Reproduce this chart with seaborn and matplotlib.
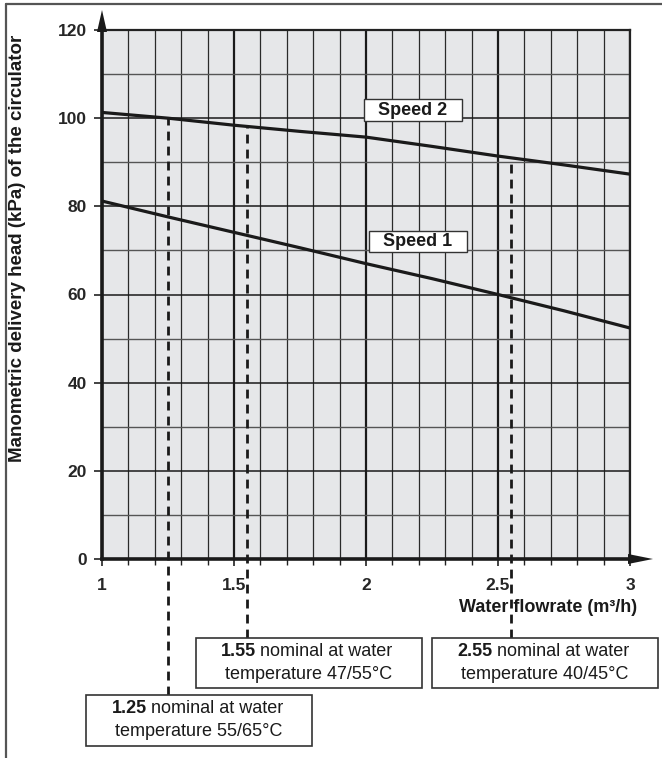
import numpy as np
import pandas as pd
import matplotlib
matplotlib.use("Agg")
import matplotlib.pyplot as plt
from matplotlib.patches import Rectangle, Polygon
from matplotlib.lines import Line2D
import seaborn as sns

# ---------------- data ----------------
flow = [1.0, 1.25, 1.5, 1.75, 2.0, 2.25, 2.5, 2.75, 3.0]
speed1_head = [81.2, 77.6, 74.1, 70.6, 67.0, 63.6, 60.0, 56.3, 52.4]
speed2_head = [101.3, 100.0, 98.4, 97.0, 95.7, 93.6, 91.4, 89.4, 87.3]
series_names = ["Speed 1", "Speed 2"]

nominal_flows = [1.25, 1.55, 2.55]
nominal_heads = [100.0, 98.0, 91.0]
nominal_temps = ["55/65°C", "47/55°C", "40/45°C"]

x_ticks = [1, 1.5, 2, 2.5, 3]
x_tick_labels = ["1", "1.5", "2", "2.5", "3"]
y_ticks = [0, 20, 40, 60, 80, 100, 120]
y_tick_labels = ["0", "20", "40", "60", "80", "100", "120"]

x_label = "Water flowrate (m³/h)"
y_label = "Manometric delivery head (kPa) of the circulator"

# ---------------- figure ----------------
sns.set_theme(style="white")
plt.rcParams["font.family"] = ["Liberation Sans", "DejaVu Sans"]

W, H = 662, 758
fig = plt.figure(figsize=(W / 100, H / 100), dpi=100)
fig.patch.set_facecolor("white")


def fx(x):
    return x / W


def fy(y):
    return 1 - y / H


ax_l, ax_r, ax_t, ax_b = 102, 630, 30, 559
ax = fig.add_axes([fx(ax_l), fy(ax_b), (ax_r - ax_l) / W, (ax_b - ax_t) / H])
ax.set_facecolor("#e6e7e9")

df = pd.DataFrame({
    "flow": flow * 2,
    "head": speed1_head + speed2_head,
    "speed": [series_names[0]] * len(flow) + [series_names[1]] * len(flow),
})
sns.lineplot(data=df, x="flow", y="head", hue="speed",
             palette=["#1a1a1a", "#1a1a1a"], linewidth=2.3, ax=ax,
             legend=False, zorder=5)

ax.set_xlim(1, 3)
ax.set_ylim(0, 120)
ax.set_xlabel("")
ax.set_ylabel("")

ax.set_xticks(x_ticks)
ax.set_xticklabels(x_tick_labels, fontsize=12.5, fontweight="bold")
ax.set_xticks(np.arange(1.1, 3.0, 0.1), minor=True)
ax.set_yticks(y_ticks)
ax.set_yticklabels(y_tick_labels, fontsize=12.5, fontweight="bold")
ax.set_yticks(np.arange(10, 120, 20), minor=True)

ax.tick_params(axis="x", which="major", direction="out", length=5, width=1.2,
               pad=9, color="#222222", bottom=True)
ax.tick_params(axis="x", which="minor", direction="out", length=4, width=1.0,
               color="#222222", bottom=True)
ax.tick_params(axis="y", which="major", direction="out", length=6, width=1.2,
               pad=5, color="#222222", left=True)
ax.tick_params(axis="y", which="minor", length=0, left=False)

# grid
ax.grid(True, which="minor", axis="x", color="#2a2a2a", linewidth=0.9)
ax.grid(True, which="major", axis="x", color="#1a1a1a", linewidth=1.6)
ax.grid(True, which="major", axis="y", color="#1a1a1a", linewidth=1.1)
ax.grid(True, which="minor", axis="y", color="#555555", linewidth=1.0)
ax.set_axisbelow(True)

for side in ["left", "bottom"]:
    ax.spines[side].set_linewidth(2.6)
    ax.spines[side].set_color("#1a1a1a")
for side in ["top", "right"]:
    ax.spines[side].set_linewidth(1.6)
    ax.spines[side].set_color("#222222")
ax.spines["right"].set_visible(True)
ax.spines["top"].set_visible(True)

# axis arrows
fig.add_artist(Polygon([(fx(ax_l - 5), fy(ax_t + 2)), (fx(ax_l + 5), fy(ax_t + 2)),
                        (fx(ax_l), fy(10))], closed=True, transform=fig.transFigure,
                       facecolor="#1a1a1a", edgecolor="none", zorder=10))
fig.add_artist(Polygon([(fx(ax_r - 2), fy(ax_b - 5)), (fx(ax_r - 2), fy(ax_b + 5)),
                        (fx(653), fy(ax_b))], closed=True, transform=fig.transFigure,
                       facecolor="#1a1a1a", edgecolor="none", zorder=10))

# axis labels
fig.text(fx(18), fy(248), y_label, rotation=90, ha="center", va="center",
         fontsize=13.5, fontweight="bold", color="#1a1a1a")
fig.text(fx(637), fy(607), x_label, ha="right", va="center",
         fontsize=13, fontweight="bold", color="#1a1a1a")

# speed labels
speed_boxes = [(369, 231, 467, 252), (364, 99, 462, 121)]
for name, (x0, y0, x1, y1) in zip(series_names, speed_boxes):
    fig.add_artist(Rectangle((fx(x0), fy(y1)), (x1 - x0) / W, (y1 - y0) / H,
                             transform=fig.transFigure, facecolor="white",
                             edgecolor="#333333", linewidth=1.0, zorder=8))
    fig.text(fx((x0 + x1) / 2), fy((y0 + y1) / 2 + 0.5), name, ha="center",
             va="center", fontsize=13, fontweight="bold", color="#1a1a1a",
             zorder=9)

# nominal boxes and dashed lines
# (left, top, right, bottom) in px, split x for bold/regular, line1 y, line2 y
nominal_boxes = [(86, 695, 312, 746), (196, 638, 422, 688), (432, 638, 658, 688)]
split_x = [147, 256, 493]
inv = ax.transData.inverted()
for fl, hd, tmp, (x0, y0, x1, y1), sx in zip(nominal_flows, nominal_heads,
                                             nominal_temps, nominal_boxes, split_x):
    # bottom of dashed line in data coords (box top)
    disp = fig.transFigure.transform((fx(x0), fy(y0)))
    y_bottom = inv.transform(disp)[1]
    ax.vlines(fl, y_bottom, hd, colors="#1a1a1a", linestyles=(0, (3.2, 2.2)),
              linewidth=2.0, clip_on=False, zorder=6)
    fig.add_artist(Rectangle((fx(x0), fy(y1)), (x1 - x0) / W, (y1 - y0) / H,
                             transform=fig.transFigure, facecolor="white",
                             edgecolor="#333333", linewidth=1.2, zorder=8))
    l1 = y0 + 13.5
    l2 = y0 + 36.5
    fig.text(fx(sx), fy(l1), f"{fl:.2f}", ha="right", va="center",
             fontsize=13, fontweight="bold", color="#1a1a1a", zorder=9)
    fig.text(fx(sx + 4), fy(l1), "nominal at water", ha="left", va="center",
             fontsize=13, color="#1a1a1a", zorder=9)
    fig.text(fx((x0 + x1) / 2), fy(l2), f"temperature {tmp}", ha="center",
             va="center", fontsize=13, color="#1a1a1a", zorder=9)

# figure frame (top and left)
fig.add_artist(Line2D([fx(6), 1], [fy(4), fy(4)], transform=fig.transFigure,
                      color="#555555", linewidth=1.6))
fig.add_artist(Line2D([fx(6), fx(6)], [fy(4), 0], transform=fig.transFigure,
                      color="#555555", linewidth=1.6))

fig.savefig("out.png", dpi=100)
